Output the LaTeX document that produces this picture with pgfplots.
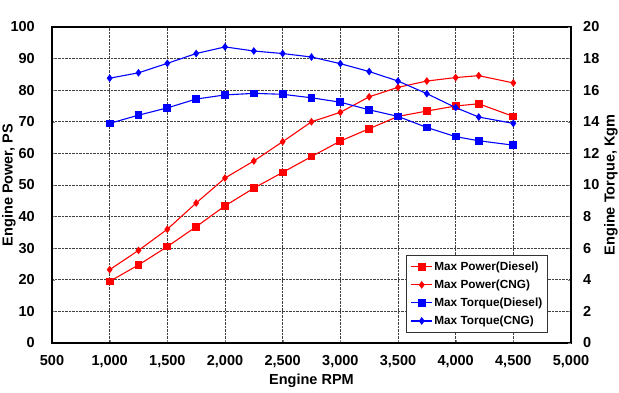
\documentclass[border=0pt]{standalone}
\usepackage{pgfplots}
\pgfplotsset{compat=1.18}
\usepackage{fontspec}
\setmainfont{Liberation Sans}
\pgfplotstableread{
rpm pd pc
1000 19.5 23.2
1250 24.7 29.3
1500 30.5 36.0
1750 36.8 44.3
2000 43.4 52.2
2250 49.0 57.6
2500 54.0 63.7
2750 59.0 70.0
3000 63.9 73.0
3250 67.8 77.9
3500 71.7 80.9
3750 73.4 82.9
4000 75.0 84.0
4200 75.7 84.6
4500 71.7 82.3
}\power
\pgfplotstableread{
rpm td tc
1000 13.90 16.76
1250 14.42 17.10
1500 14.88 17.70
1750 15.44 18.32
2000 15.70 18.74
2250 15.80 18.48
2500 15.74 18.32
2750 15.52 18.10
3000 15.24 17.68
3250 14.76 17.18
3500 14.34 16.58
3750 13.64 15.78
4000 13.06 14.90
4200 12.80 14.30
4500 12.52 13.90
}\torque
\pgfplotsset{
  common/.style={
    width=519pt, height=316pt, scale only axis,
    xmin=500, xmax=5000,
    /pgf/number format/assume math mode=true,
    /pgf/number format/1000 sep={,},
    tick label style={font=\fontsize{14.5}{16}\selectfont\bfseries, inner sep=0pt},
    label style={font=\fontsize{14.5}{16}\selectfont\bfseries, inner sep=0pt},
    tick align=inside, major tick length=3pt,
    axis line style={line width=1.3pt},
  },
  pdstyle/.style={red, line width=1.1pt, mark=square*, mark size=3.3pt, mark options={solid}},
  pcstyle/.style={red, line width=1.1pt, mark=diamond*, mark size=3pt, mark options={solid}},
  tdstyle/.style={blue, line width=1.1pt, mark=square*, mark size=3.3pt, mark options={solid}},
  tcstyle/.style={blue, line width=1.1pt, mark=diamond*, mark size=3pt, mark options={solid}},
}
\begin{document}
\begin{tikzpicture}
\begin{axis}[common, name=main,
  ymin=0, ymax=100, ytick={0,10,...,100},
  xtick={500,1000,...,5000},
  xtick pos=bottom, ytick pos=left,
  grid=major,
  major grid style={black!75, densely dotted, line width=0.7pt},
  yticklabel style={anchor=east, xshift=-17pt},
  xticklabel style={anchor=north, yshift=-12.5pt},
  xlabel={Engine RPM},
  ylabel={Engine Power, PS},
  xlabel style={at={(rel axis cs:0.5,0)}, anchor=center, yshift=-38pt},
  ylabel style={at={(rel axis cs:0,0.5)}, anchor=center, yshift=43pt},
]
\addplot[pdstyle] table[x=rpm, y=pd] {\power};
\addplot[pcstyle] table[x=rpm, y=pc] {\power};
\end{axis}
\begin{axis}[common,
  ymin=0, ymax=20, ytick={0,2,...,20},
  axis y line*=right, axis x line=none,
  yticklabel style={anchor=west, xshift=12pt},
  ylabel={Engine Torque, Kgm},
  ylabel style={at={(rel axis cs:1,0.5)}, anchor=center, yshift=-40pt},
  legend style={at={(rel axis cs:0.956,0.032)}, anchor=south east,
    font=\fontsize{11.8}{13}\selectfont\bfseries, draw=black!80, line width=0.8pt,
    row sep=5pt, inner xsep=4pt, inner ysep=5pt,
    nodes={inner sep=1.5pt}},
  legend cell align=left,
  legend image code/.code={\draw[mark repeat=2,mark phase=2] plot coordinates {(0pt,0pt) (10.5pt,0pt) (21pt,0pt)};},
]
\addlegendimage{pdstyle}
\addlegendentry{Max Power(Diesel)}
\addlegendimage{pcstyle}
\addlegendentry{Max Power(CNG)}
\addplot[tdstyle] table[x=rpm, y=td] {\torque};
\addlegendentry{Max Torque(Diesel)}
\addplot[tcstyle] table[x=rpm, y=tc] {\torque};
\addlegendentry{Max Torque(CNG)}
\end{axis}
\path (main.south west) ++(-52pt,-50pt) rectangle ++(619pt,393pt);
\end{tikzpicture}
\end{document}
